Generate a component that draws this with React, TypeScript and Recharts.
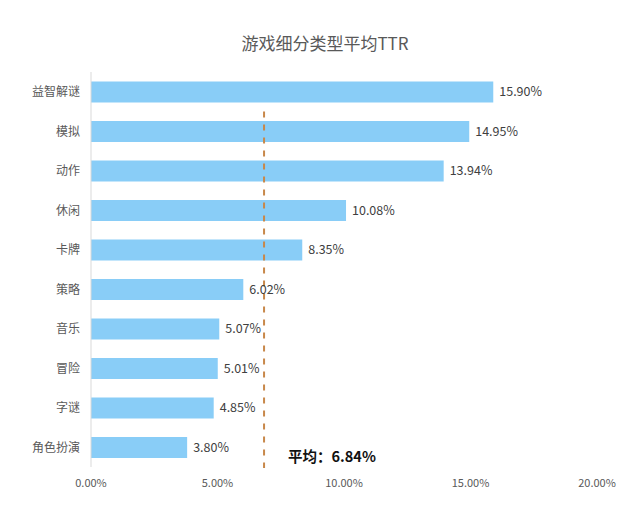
import React from "react"
import {
  BarChart,
  Bar,
  XAxis,
  YAxis,
  ReferenceLine,
  LabelList,
} from "recharts"

const categories = ["益智解谜", "模拟", "动作", "休闲", "卡牌", "策略", "音乐", "冒险", "字谜", "角色扮演"]
const ttrValues = [15.9, 14.95, 13.94, 10.08, 8.35, 6.02, 5.07, 5.01, 4.85, 3.8]
const xTicks = [0, 5, 10, 15, 20]
const averageTtr = 6.84

const data = categories.map((name, i) => ({ name, ttr: ttrValues[i] }))

const FONT = "'Noto Sans CJK SC', 'Noto Sans', sans-serif"

function AverageLine(props: any) {
  const { x1, y1, x2, y2 } = props
  const top = Math.min(y1, y2)
  const bottom = Math.max(y1, y2)
  // line starts one band below the top of the plot
  const band = (bottom - top) / categories.length
  return (
    <line
      x1={x1}
      x2={x2}
      y1={top + band}
      y2={bottom + 1}
      stroke="#C8884A"
      strokeWidth={2}
      strokeDasharray="6 7"
    />
  )
}

export default function App() {
  return (
    <div style={{ position: "absolute", left: 0, top: 0, width: 628, height: 508, background: "#fff", fontFamily: FONT }}>
      <div
        style={{
          position: "absolute",
          top: 31,
          left: 0,
          width: 650,
          textAlign: "center",
          fontSize: 17,
          color: "#595959",
          lineHeight: "24px",
        }}
      >
        游戏细分类型平均TTR
      </div>
      <BarChart
        width={628}
        height={508}
        data={data}
        layout="vertical"
        margin={{ top: 72, right: 31, bottom: 12, left: 0 }}
        barCategoryGap="24%"
      >
        <XAxis
          type="number"
          domain={[0, 20]}
          ticks={xTicks}
          tickFormatter={(v: number) => `${v.toFixed(2)}%`}
          axisLine={false}
          tickLine={false}
          tickSize={0}
          tickMargin={12}
          height={29}
          tick={{ fontSize: 11, fill: "#595959", fontFamily: FONT }}
        />
        <YAxis
          type="category"
          dataKey="name"
          width={91}
          axisLine={{ stroke: "#D9D9D9" }}
          tickLine={false}
          tickSize={0}
          tickMargin={11}
          tick={{ fontSize: 12, fill: "#595959", fontFamily: FONT }}
        />
        <Bar dataKey="ttr" fill="#89CDF7" isAnimationActive={false}>
          <LabelList
            dataKey="ttr"
            position="right"
            offset={6}
            formatter={(v: any) => `${Number(v).toFixed(2)}%`}
            style={{ fontSize: 12.5, fill: "#404040", fontFamily: FONT }}
          />
        </Bar>
        <ReferenceLine
          x={averageTtr}
          shape={AverageLine}
          label={(p: any) => {
            const vb = p.viewBox || {}
            return (
              <text
                x={vb.x + 24}
                y={vb.y + vb.height - 5}
                fontSize={14.5}
                fontWeight="bold"
                fill="#111"
                fontFamily={FONT}
              >
                {`平均：${averageTtr.toFixed(2)}%`}
              </text>
            )
          }}
        />
      </BarChart>
    </div>
  )
}
